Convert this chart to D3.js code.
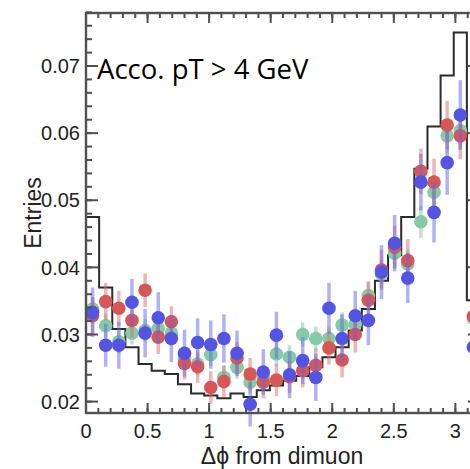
<!DOCTYPE html>
<html>
<head>
<meta charset="utf-8">
<script src="https://cdn.jsdelivr.net/npm/d3@7"></script>
<style>
  html, body { margin: 0; padding: 0; background: #fff; }
  svg { display: block; }
</style>
</head>
<body>
<svg id="chart" width="470" height="469"></svg>
<script>
// Δφ binning: 30 bins between 0 and 3.2
const phiMin = 0, phiMax = 3.2, nBins = 30;

// reference histogram (black step line)
const histValues = [0.0475, 0.0370, 0.0308, 0.0281, 0.0256, 0.0246, 0.0241, 0.0226, 0.0212, 0.0209,
                    0.0205, 0.0212, 0.0207, 0.0217, 0.0224, 0.0231, 0.0238, 0.0251, 0.0266, 0.0281,
                    0.0306, 0.0338, 0.0380, 0.0418, 0.0475, 0.0547, 0.0610, 0.0686, 0.0750, 0.0351];

// three sets of data points with vertical error bars
const greenValues = [0.0338, 0.0313, 0.0289, 0.0302, 0.0306, 0.0309, 0.0302, 0.0264, 0.0256, 0.0270,
                     0.0236, 0.0251, 0.0229, 0.0236, 0.0271, 0.0266, 0.0300, 0.0294, 0.0294, 0.0314,
                     0.0315, 0.0358, 0.0390, 0.0421, 0.0405, 0.0468, 0.0512, 0.0596, 0.0604, 0.0324];
const greenErrors = [0.0018, 0.0018, 0.0017, 0.0017, 0.0017, 0.0017, 0.0017, 0.0017, 0.0017, 0.0017,
                     0.0017, 0.0017, 0.0017, 0.0017, 0.0018, 0.0018, 0.0018, 0.0018, 0.0018, 0.0019,
                     0.0019, 0.0020, 0.0021, 0.0022, 0.0022, 0.0024, 0.0025, 0.0026, 0.0027, 0.0020];

const redValues = [0.0328, 0.0349, 0.0339, 0.0321, 0.0366, 0.0296, 0.0319, 0.0257, 0.0252, 0.0221,
                   0.0230, 0.0265, 0.0241, 0.0229, 0.0232, 0.0237, 0.0246, 0.0254, 0.0280, 0.0262,
                   0.0300, 0.0351, 0.0396, 0.0430, 0.0410, 0.0543, 0.0527, 0.0612, 0.0596, 0.0327];
const redErrors = [0.0028, 0.0028, 0.0026, 0.0026, 0.0025, 0.0025, 0.0023, 0.0024, 0.0024, 0.0024,
                   0.0024, 0.0024, 0.0024, 0.0024, 0.0024, 0.0024, 0.0025, 0.0025, 0.0025, 0.0026,
                   0.0027, 0.0028, 0.0030, 0.0032, 0.0032, 0.0034, 0.0035, 0.0036, 0.0035, 0.0030];

const blueValues = [0.0333, 0.0284, 0.0284, 0.0348, 0.0302, 0.0325, 0.0294, 0.0272, 0.0288, 0.0285,
                    0.0294, 0.0272, 0.0196, 0.0244, 0.0299, 0.0240, 0.0261, 0.0236, 0.0339, 0.0294,
                    0.0328, 0.0321, 0.0393, 0.0436, 0.0384, 0.0527, 0.0482, 0.0556, 0.0627, 0.0281];
const blueErrors = [0.0037, 0.0032, 0.0035, 0.0035, 0.0036, 0.0038, 0.0035, 0.0035, 0.0036, 0.0036,
                    0.0036, 0.0034, 0.0033, 0.0034, 0.0035, 0.0035, 0.0035, 0.0035, 0.0038, 0.0036,
                    0.0037, 0.0037, 0.0040, 0.0042, 0.0037, 0.0042, 0.0045, 0.0048, 0.0052, 0.0040];

const yTicks = [0.02, 0.03, 0.04, 0.05, 0.06, 0.07];
const xTicks = [0, 0.5, 1, 1.5, 2, 2.5, 3];

const series = [
  { values: greenValues, errors: greenErrors, fill: "#86caa6", bar: "rgba(134,202,166,0.55)" },
  { values: redValues,   errors: redErrors,   fill: "#d65757", bar: "rgba(222,110,110,0.5)" },
  { values: blueValues,  errors: blueErrors,  fill: "#5454e0", bar: "rgba(100,100,238,0.5)" }
];

const svg = d3.select("#chart");
const plotL = 86, plotR = 480, plotT = 13, plotB = 413;

const x = d3.scaleLinear().domain([phiMin, phiMax]).range([plotL, plotR]);
const y = d3.scaleLinear().domain([0.0183, 0.0779]).range([plotB, plotT]);

const binW = (phiMax - phiMin) / nBins;
const centers = d3.range(nBins).map(i => phiMin + (i + 0.5) * binW);

// histogram as a step path
const stepPts = [];
histValues.forEach((v, i) => {
  stepPts.push([phiMin + i * binW, v]);
  stepPts.push([phiMin + (i + 1) * binW, v]);
});
const line = d3.line().x(d => x(d[0])).y(d => y(d[1]));
svg.append("path")
  .attr("d", line([[phiMin, y.domain()[0]], ...stepPts]))
  .attr("fill", "none")
  .attr("stroke", "#2b2b2b")
  .attr("stroke-width", 2);

// data points
series.forEach(s => {
  const g = svg.append("g");
  g.selectAll("line.err").data(s.values).join("line")
    .attr("class", "err")
    .attr("x1", (d, i) => x(centers[i])).attr("x2", (d, i) => x(centers[i]))
    .attr("y1", (d, i) => y(d - s.errors[i])).attr("y2", (d, i) => y(d + s.errors[i]))
    .attr("stroke", s.bar).attr("stroke-width", 3.5);
  g.selectAll("circle").data(s.values).join("circle")
    .attr("cx", (d, i) => x(centers[i])).attr("cy", d => y(d))
    .attr("r", 6.8)
    .attr("fill", s.fill);
});

// frame and ticks
const axisColor = "#505050";
const frame = svg.append("g");
frame.append("rect")
  .attr("x", plotL).attr("y", plotT).attr("width", plotR - plotL).attr("height", plotB - plotT)
  .attr("fill", "none").attr("stroke", axisColor).attr("stroke-width", 2.4);

const yMinor = d3.range(0.020, 0.0781, 0.002);
const xMinor = d3.range(0, 3.21, 0.1);

function tickLines(vals, fn, len) {
  frame.selectAll(null).data(vals).join("line")
    .each(function (d) { const c = fn(d, len); d3.select(this).attr("x1", c[0]).attr("y1", c[1]).attr("x2", c[2]).attr("y2", c[3]); })
    .attr("stroke", axisColor).attr("stroke-width", 2);
}
// left and right axes
tickLines(yMinor, (d, l) => [plotL, y(d), plotL + l, y(d)], 6);
tickLines(yTicks, (d, l) => [plotL, y(d), plotL + l, y(d)], 12);
tickLines(yMinor, (d, l) => [plotR, y(d), plotR - l, y(d)], 6);
tickLines(yTicks, (d, l) => [plotR, y(d), plotR - l, y(d)], 12);
// bottom and top axes
tickLines(xMinor, (d, l) => [x(d), plotB, x(d), plotB - l], 5);
tickLines(xTicks, (d, l) => [x(d), plotB, x(d), plotB - l], 10);
tickLines(xMinor, (d, l) => [x(d), plotT, x(d), plotT + l], 5);
tickLines(xTicks, (d, l) => [x(d), plotT, x(d), plotT + l], 10);

// tick labels
const labelFont = "'Liberation Sans', Arial, Helvetica, sans-serif";
svg.append("g").selectAll("text").data(yTicks).join("text")
  .attr("x", 80).attr("y", d => y(d)).attr("dy", "0.36em")
  .attr("text-anchor", "end")
  .attr("font-family", labelFont).attr("font-size", 20).attr("fill", "#222")
  .text(d3.format(".2f"));
svg.append("g").selectAll("text").data(xTicks).join("text")
  .attr("x", d => x(d)).attr("y", 438)
  .attr("text-anchor", "middle")
  .attr("font-family", labelFont).attr("font-size", 20).attr("fill", "#222")
  .text(d => String(d));

// axis titles
svg.append("text")
  .attr("transform", "translate(41,213) rotate(-90)")
  .attr("text-anchor", "middle")
  .attr("font-family", labelFont).attr("font-size", 23).attr("fill", "#222")
  .text("Entries");
svg.append("text")
  .attr("x", 282).attr("y", 464)
  .attr("text-anchor", "middle")
  .attr("font-family", labelFont).attr("font-size", 23).attr("fill", "#222")
  .text("Δϕ from dimuon");

// annotation
svg.append("text")
  .attr("x", 97).attr("y", 79)
  .attr("font-family", "'Open Sans', 'Noto Sans', sans-serif").attr("font-size", 27.5).attr("fill", "#000")
  .text("Acco. pT > 4 GeV");
</script>
</body>
</html>
